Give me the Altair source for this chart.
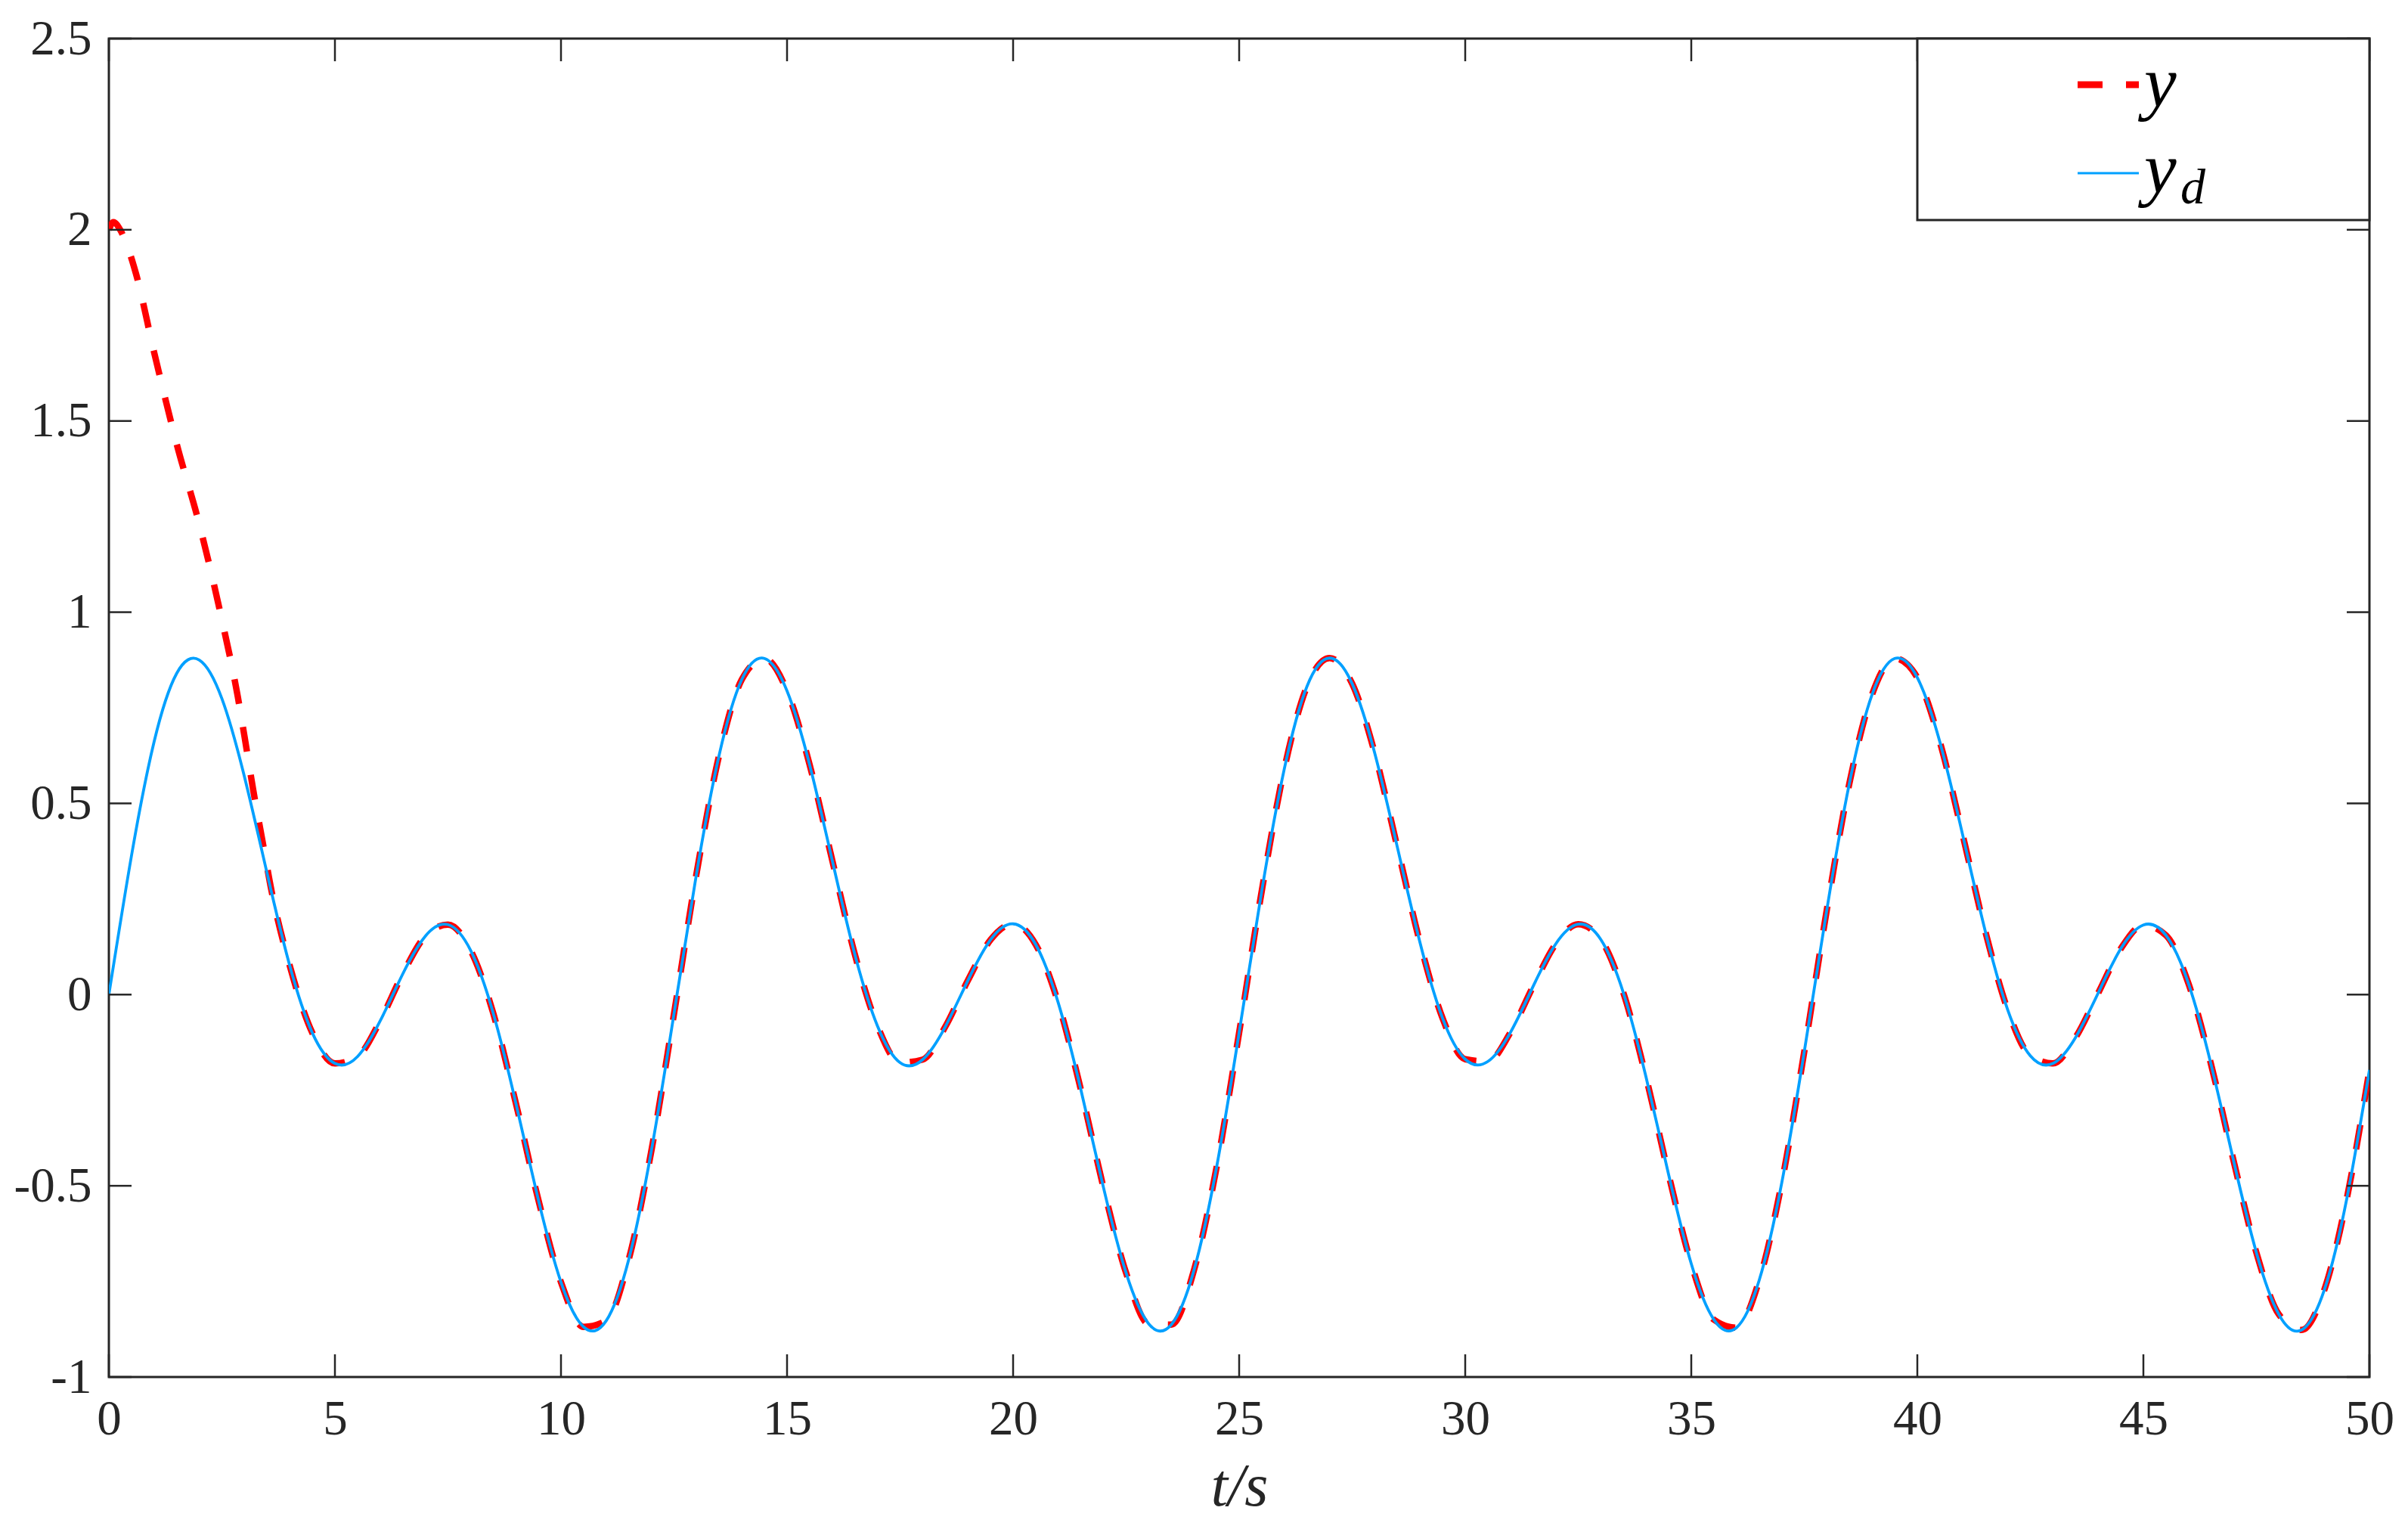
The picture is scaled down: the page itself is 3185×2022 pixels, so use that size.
import altair as alt
import pandas as pd

# ---------------- data ----------------
t_d = [0, 0.5, 1, 1.5, 2, 2.5, 3, 3.5, 4, 4.5, 5, 5.5, 6, 6.5, 7, 7.5, 8, 8.5, 9, 9.5,
       10, 10.5, 11, 11.5, 12, 12.5, 13, 13.5, 14, 14.5, 15, 15.5, 16, 16.5, 17, 17.5, 18, 18.5, 19, 19.5,
       20, 20.5, 21, 21.5, 22, 22.5, 23, 23.5, 24, 24.5, 25, 25.5, 26, 26.5, 27, 27.5, 28, 28.5, 29, 29.5,
       30, 30.5, 31, 31.5, 32, 32.5, 33, 33.5, 34, 34.5, 35, 35.5, 36, 36.5, 37, 37.5, 38, 38.5, 39, 39.5,
       40, 40.5, 41, 41.5, 42, 42.5, 43, 43.5, 44, 44.5, 45, 45.5, 46, 46.5, 47, 47.5, 48, 48.5, 49, 49.5, 50]
y_d = [0.000, 0.363, 0.661, 0.840, 0.875, 0.774, 0.569, 0.317, 0.076, -0.100,
       -0.180, -0.162, -0.069, 0.054, 0.153, 0.183, 0.116, -0.048, -0.283, -0.537,
       -0.752, -0.869, -0.853, -0.692, -0.408, -0.050, 0.318, 0.627, 0.824, 0.879,
       0.794, 0.601, 0.351, 0.105, -0.082, -0.178, -0.170, -0.084, 0.037, 0.143,
       0.185, 0.131, -0.022, -0.249, -0.505, -0.728, -0.861, -0.863, -0.721, -0.452,
       -0.099, 0.271, 0.591, 0.806, 0.880, 0.813, 0.631, 0.385, 0.136, -0.062,
       -0.169, -0.175, -0.099, 0.021, 0.132, 0.184, 0.144, 0.004, -0.216, -0.471,
       -0.704, -0.850, -0.871, -0.748, -0.493, -0.149, 0.223, 0.554, 0.785, 0.879,
       0.829, 0.660, 0.419, 0.167, -0.040, -0.160, -0.180, -0.112, 0.004, 0.120,
       0.182, 0.155, 0.028, -0.184, -0.437, -0.675, -0.837, -0.877, -0.773, -0.533,
       -0.197]

# start of the actual output y (before it joins the reference)
t_y_start = [0, 0.1, 0.25, 0.4, 0.6, 1.0, 1.5, 2.0, 2.5, 2.85, 3.0, 3.2, 3.4, 3.6]
y_start = [2.00, 2.02, 2.00, 1.96, 1.885, 1.68, 1.44, 1.23, 0.98, 0.78, 0.675, 0.53, 0.40, 0.27]
t_y = t_y_start + t_d[8:]
y_out = y_start + y_d[8:]

x_ticks = [0, 5, 10, 15, 20, 25, 30, 35, 40, 45, 50]
y_ticks = [-1, -0.5, 0, 0.5, 1, 1.5, 2, 2.5]

# ---------------- layout constants ----------------
W, H = 2990, 1770
AX = "#262626"
RED = "#FF0000"
BLUE = "#00A0FF"
FONT = "Liberation Serif"
TL = 30  # inward tick length

df_d = pd.DataFrame({"t": t_d, "v": y_d})
df_y = pd.DataFrame({"t": t_y, "v": y_out})
df_xt = pd.DataFrame({"t": x_ticks})
df_yt = pd.DataFrame({"v": y_ticks})
one = pd.DataFrame({"k": [0]})

xscale = alt.Scale(domain=[0, 50], nice=False, zero=False)
yscale = alt.Scale(domain=[-1, 2.5], nice=False, zero=False)

x_axis = alt.Axis(values=x_ticks, title="t/s", titleFont=FONT, titleFontSize=80,
                  titleFontStyle="italic", titleFontWeight="normal", titleColor=AX,
                  titlePadding=18, labelPadding=24, labelBaseline="top",
                  labelFlush=False, labelOverlap=False,
                  labelExpr="'' + datum.value")
y_axis = alt.Axis(values=y_ticks, title=None, labelPadding=23,
                  labelFlush=False, labelOverlap=False,
                  labelExpr="'' + datum.value")

line_y = alt.Chart(df_y).mark_line(color=RED, strokeWidth=8.5, strokeDash=[33, 31],
                                   interpolate="monotone", clip=True).encode(
    x=alt.X("t:Q", scale=xscale, axis=x_axis),
    y=alt.Y("v:Q", scale=yscale, axis=y_axis),
)
line_d = alt.Chart(df_d).mark_line(color=BLUE, strokeWidth=3.8,
                                   interpolate="natural", clip=True).encode(
    x=alt.X("t:Q", scale=xscale),
    y=alt.Y("v:Q", scale=yscale),
)

tick_style = dict(color=AX, strokeWidth=2.5)
ticks_bottom = alt.Chart(df_xt).mark_rule(**tick_style).encode(
    x=alt.X("t:Q", scale=xscale), y=alt.value(H), y2=alt.value(H - TL))
ticks_top = alt.Chart(df_xt).mark_rule(**tick_style).encode(
    x=alt.X("t:Q", scale=xscale), y=alt.value(0), y2=alt.value(TL))
ticks_left = alt.Chart(df_yt).mark_rule(**tick_style).encode(
    y=alt.Y("v:Q", scale=yscale), x=alt.value(0), x2=alt.value(TL))
ticks_right = alt.Chart(df_yt).mark_rule(**tick_style).encode(
    y=alt.Y("v:Q", scale=yscale), x=alt.value(W), x2=alt.value(W - TL))

# ---------------- legend (drawn by hand, MATLAB style) ----------------
leg_box = alt.Chart(one).mark_rect(fill="white", stroke=AX, strokeWidth=3).encode(
    x=alt.value(2392), x2=alt.value(2990), y=alt.value(0), y2=alt.value(240))
leg_red = alt.Chart(one).mark_rule(color=RED, strokeWidth=9, strokeDash=[33, 31]).encode(
    x=alt.value(2604), x2=alt.value(2685), y=alt.value(61))
leg_blue = alt.Chart(one).mark_rule(color=BLUE, strokeWidth=3).encode(
    x=alt.value(2604), x2=alt.value(2685), y=alt.value(178))
txt = dict(font=FONT, fontStyle="italic", color="black", align="left", baseline="alphabetic")
leg_t1 = alt.Chart(one).mark_text(text="y", fontSize=96, **txt).encode(
    x=alt.value(2692), y=alt.value(90))
leg_t2 = alt.Chart(one).mark_text(text="y", fontSize=96, **txt).encode(
    x=alt.value(2692), y=alt.value(204))
leg_t3 = alt.Chart(one).mark_text(text="d", fontSize=66, **txt).encode(
    x=alt.value(2740), y=alt.value(218))

chart = alt.layer(
    line_y, line_d, ticks_bottom, ticks_top, ticks_left, ticks_right,
    leg_box, leg_red, leg_blue, leg_t1, leg_t2, leg_t3
).properties(
    width=W, height=H,
    autosize=alt.AutoSizeParams(type="none"),
    padding={"left": 136, "top": 43, "right": 40, "bottom": 190},
    background="white",
).configure_view(
    stroke=AX, strokeWidth=3
).configure_axis(
    grid=False, ticks=False, tickSize=0, domain=False,
    labelFont=FONT, labelFontSize=65, labelColor=AX,
)

chart.save("out.html", embed_options={"renderer": "svg", "actions": False})
